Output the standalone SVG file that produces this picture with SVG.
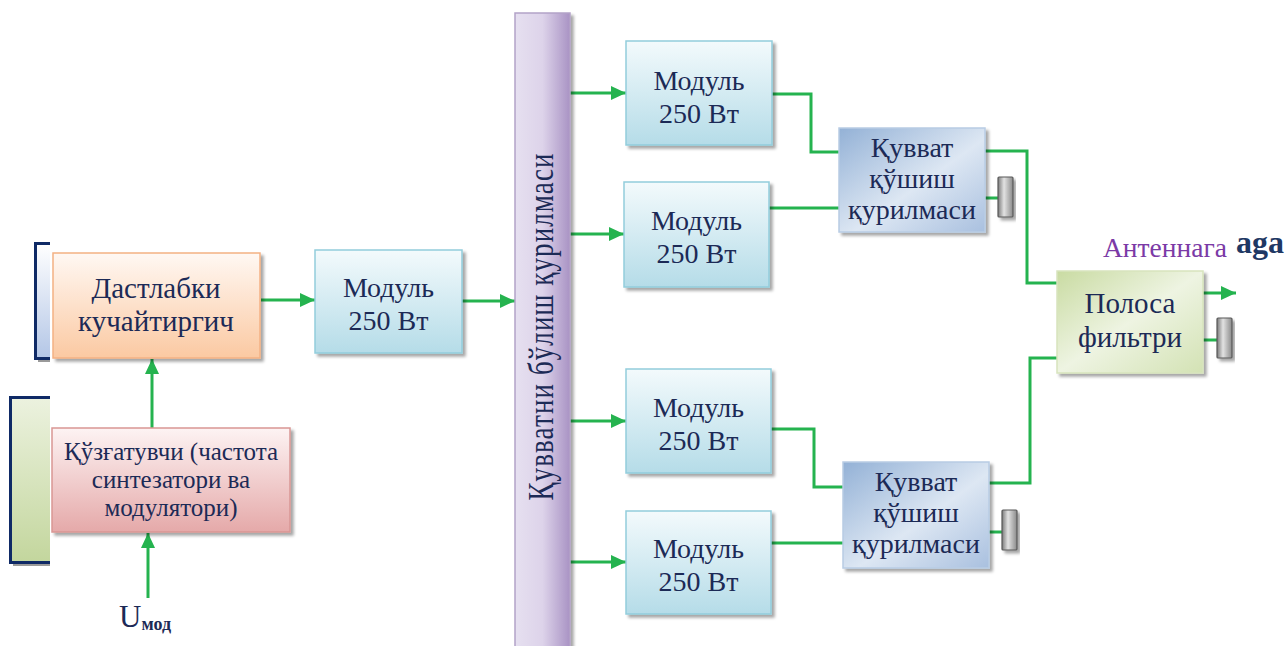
<svg xmlns="http://www.w3.org/2000/svg" width="1288" height="646" viewBox="0 0 1288 646">
<style>
.t{font-family:"Liberation Serif","Times New Roman",serif;fill:#1c2a56;text-anchor:middle}
.s{font-family:"Liberation Serif","Times New Roman",serif}
.c{fill:none;stroke:#25b34f;stroke-width:3}
.a{fill:none;stroke:#25b34f;stroke-width:3;marker-end:url(#ah)}
.term{fill:url(#gT);stroke:#595959;stroke-width:1.2}
</style>
<defs>
<marker id="ah" markerUnits="userSpaceOnUse" markerWidth="16" markerHeight="14" refX="15" refY="7" orient="auto">
<path d="M0,0 L15,7 L0,14 Z" fill="#25b34f"/>
</marker>
<filter id="sh" x="-10%" y="-10%" width="130%" height="130%">
<feDropShadow dx="3" dy="3" stdDeviation="1.5" flood-color="#000" flood-opacity="0.35"/>
</filter>
<linearGradient id="gO" x1="0" y1="0" x2="0" y2="1"><stop offset="0" stop-color="#fff8f3"/><stop offset="1" stop-color="#fbc9a2"/></linearGradient>
<linearGradient id="gP" x1="0" y1="0" x2="0" y2="1"><stop offset="0" stop-color="#fdf3f3"/><stop offset="1" stop-color="#e5a9a9"/></linearGradient>
<linearGradient id="gM" x1="0" y1="0" x2="0" y2="1"><stop offset="0" stop-color="#f3fafc"/><stop offset="1" stop-color="#b5dce8"/></linearGradient>
<linearGradient id="gK" x1="0" y1="0" x2="1" y2="1"><stop offset="0" stop-color="#93b1d6"/><stop offset="0.55" stop-color="#dde7f3"/><stop offset="1" stop-color="#a9c0df"/></linearGradient>
<linearGradient id="gF" x1="0" y1="0" x2="1" y2="1"><stop offset="0" stop-color="#c9dba2"/><stop offset="0.5" stop-color="#eef4e2"/><stop offset="1" stop-color="#d3e2b4"/></linearGradient>
<linearGradient id="gB" x1="0" y1="0" x2="1" y2="0"><stop offset="0" stop-color="#e6e0f0"/><stop offset="0.5" stop-color="#ddd3ea"/><stop offset="1" stop-color="#a993c4"/></linearGradient>
<linearGradient id="gT" x1="0" y1="0" x2="1" y2="0"><stop offset="0" stop-color="#7a7a7a"/><stop offset="0.4" stop-color="#e2e2e2"/><stop offset="1" stop-color="#8a8a8a"/></linearGradient>
<linearGradient id="gL1" x1="0" y1="0" x2="0" y2="1"><stop offset="0" stop-color="#ffffff"/><stop offset="1" stop-color="#b3c6e6"/></linearGradient>
<linearGradient id="gL2" x1="0" y1="0" x2="0" y2="1"><stop offset="0" stop-color="#ecf2df"/><stop offset="1" stop-color="#c3d69d"/></linearGradient>
<clipPath id="clipL"><rect x="0" y="0" width="50" height="646"/></clipPath>
</defs>

<g id="left-partials" clip-path="url(#clipL)">
<rect x="38" y="246" width="40" height="116" fill="#9a9a9a"/>
<rect x="35.5" y="243.5" width="40" height="115" fill="url(#gL1)" stroke="#0f2a66" stroke-width="3"/>
<rect x="13" y="400" width="60" height="166" fill="#9a9a9a"/>
<rect x="10.5" y="397.5" width="60" height="165" fill="url(#gL2)" stroke="#0f2a66" stroke-width="3"/>
</g>

<g id="connectors">
<path class="a" d="M152,428 V359"/>
<path class="a" d="M148,598 V533"/>
<path class="a" d="M261,300 H315"/>
<path class="a" d="M462,301 H515"/>
<path class="a" d="M570,93 H626"/>
<path class="a" d="M570,234 H624"/>
<path class="a" d="M570,421 H626"/>
<path class="a" d="M570,562 H626"/>
<path class="c" d="M772,94 H811 V152 H839"/>
<path class="c" d="M769,208 H839"/>
<path class="c" d="M771,429 H814 V487 H843"/>
<path class="c" d="M771,543 H843"/>
<path class="c" d="M985,151 H1027 V283 H1057"/>
<path class="c" d="M989,483 H1030 V358 H1057"/>
<path class="c" d="M985,198 H998"/>
<path class="c" d="M989,532 H1002"/>
<path class="c" d="M1203,340 H1217"/>
<path class="a" d="M1203,293 H1236"/>
</g>

<g id="preamp">
<rect x="53" y="253" width="207" height="105" fill="url(#gO)" stroke="#f4b183" stroke-width="1.5" filter="url(#sh)"/>
<text class="t" font-size="29" x="156" y="298">Дастлабки</text>
<text class="t" font-size="29" x="156" y="331">кучайтиргич</text>
</g>

<g id="exciter">
<rect x="52" y="428" width="238" height="104" fill="url(#gP)" stroke="#d99694" stroke-width="1.5" filter="url(#sh)"/>
<text class="t" font-size="25" x="171" y="460">Қўзғатувчи (частота</text>
<text class="t" font-size="25" x="171" y="488">синтезатори ва</text>
<text class="t" font-size="25" x="171" y="516">модулятори)</text>
</g>

<g id="umod">
<text class="t" font-size="31" x="145" y="627">U<tspan font-size="18" font-weight="bold" dy="3">мод</tspan></text>
</g>

<g id="module0">
<rect x="315" y="250" width="147" height="103" fill="url(#gM)" stroke="#92cddc" stroke-width="1.5" filter="url(#sh)"/>
<text class="t" font-size="28" x="388.5" y="297">Модуль</text>
<text class="t" font-size="28" x="388.5" y="330">250 Вт</text>
</g>

<g id="splitter">
<rect x="515" y="13" width="55" height="640" fill="url(#gB)" stroke="#b3a2c7" stroke-width="1.5" filter="url(#sh)"/>
<text class="t" font-size="27" transform="translate(553,327) rotate(-90) scale(1,1.3)" x="0" y="0" textLength="347" lengthAdjust="spacing">Қувватни бўлиш қурилмаси</text>
</g>

<g id="module1">
<rect x="626" y="41" width="146" height="104" fill="url(#gM)" stroke="#92cddc" stroke-width="1.5" filter="url(#sh)"/>
<text class="t" font-size="28" x="699" y="90">Модуль</text>
<text class="t" font-size="28" x="699" y="123">250 Вт</text>
</g>
<g id="module2">
<rect x="624" y="182" width="145" height="105" fill="url(#gM)" stroke="#92cddc" stroke-width="1.5" filter="url(#sh)"/>
<text class="t" font-size="28" x="696.5" y="230">Модуль</text>
<text class="t" font-size="28" x="696.5" y="263">250 Вт</text>
</g>
<g id="module3">
<rect x="626" y="369" width="145" height="104" fill="url(#gM)" stroke="#92cddc" stroke-width="1.5" filter="url(#sh)"/>
<text class="t" font-size="28" x="698.5" y="417">Модуль</text>
<text class="t" font-size="28" x="698.5" y="450">250 Вт</text>
</g>
<g id="module4">
<rect x="626" y="511" width="145" height="103" fill="url(#gM)" stroke="#92cddc" stroke-width="1.5" filter="url(#sh)"/>
<text class="t" font-size="28" x="698.5" y="558">Модуль</text>
<text class="t" font-size="28" x="698.5" y="591">250 Вт</text>
</g>

<g id="combiner1">
<rect x="839" y="128" width="146" height="104" fill="url(#gK)" stroke="#b8cce4" stroke-width="1.5" filter="url(#sh)"/>
<text class="t" font-size="28" x="912" y="157">Қувват</text>
<text class="t" font-size="28" x="912" y="188">қўшиш</text>
<text class="t" font-size="28" x="912" y="219">қурилмаси</text>
</g>
<g id="load1"><rect class="term" x="998" y="177" width="15" height="40" rx="1" filter="url(#sh)"/></g>

<g id="combiner2">
<rect x="843" y="462" width="146" height="106" fill="url(#gK)" stroke="#b8cce4" stroke-width="1.5" filter="url(#sh)"/>
<text class="t" font-size="28" x="916" y="491">Қувват</text>
<text class="t" font-size="28" x="916" y="522">қўшиш</text>
<text class="t" font-size="28" x="916" y="553">қурилмаси</text>
</g>
<g id="load2"><rect class="term" x="1002" y="510" width="15" height="40" rx="1" filter="url(#sh)"/></g>

<g id="filter">
<rect x="1057" y="271" width="146" height="102" fill="url(#gF)" stroke="#d7e4bd" stroke-width="1.5" filter="url(#sh)"/>
<text class="t" font-size="29" x="1130" y="313">Полоса</text>
<text class="t" font-size="29" x="1130" y="347">фильтри</text>
</g>
<g id="load3"><rect class="term" x="1217" y="318" width="15" height="40" rx="1" filter="url(#sh)"/></g>

<g id="antenna-label">
<text class="s" font-size="32" font-weight="bold" fill="#1f3864" x="1236" y="253">aga</text>
<text class="s" font-size="27.5" fill="#7b3aa6" x="1103" y="257">Антеннага</text>
</g>
</svg>
